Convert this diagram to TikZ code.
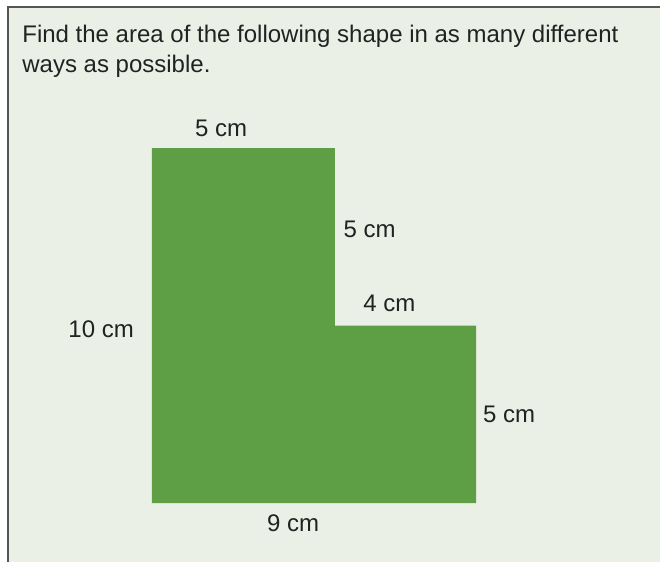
\documentclass[tikz,border=0pt]{standalone}
\usepackage{fontspec}
\setmainfont{Liberation Sans}
\usepackage{xcolor}
\usetikzlibrary{positioning,calc}
\definecolor{paneback}{HTML}{EBF0E6}
\definecolor{shapegreen}{HTML}{5E9E45}
\definecolor{panerule}{HTML}{555555}
\definecolor{labeltext}{HTML}{222222}
\newcommand{\wid}{9}
\newcommand{\hig}{10}
\newcommand{\topwid}{5.08}
\newcommand{\stephig}{5}

\begin{document}
\begin{tikzpicture}[x=18pt, y=17.75pt, font=\fontsize{12}{14.5}\selectfont]
        \tikzset{lengthlabel/.style={text=labeltext, inner sep=0pt, anchor=west}}
        % page and frame
        \useasboundingbox (-4.22,-1.662) rectangle (14.11,14.17);
        \fill[paneback] (-4,-1.662) rectangle (14.11,13.97);
        \draw[panerule, line width=1pt] (-4,-1.662) -- (-4,13.97) -- (14.11,13.97);

        % question
        \node[lengthlabel, anchor=base west] (question) at (-3.61,12.96)
            {Find the area of the following shape in as many different};
        \node[lengthlabel, anchor=base west] (questiontwo) at (-3.61,12.14)
            {ways as possible.};

        % corners of the shape
        \coordinate (O) at (0, 0);
        \coordinate (A) at (\wid, 0);
        \coordinate (B) at (\wid, \stephig);
        \coordinate (C) at (\topwid, \stephig);
        \coordinate (D) at (\topwid, \hig);
        \coordinate (E) at (0, \hig);

        % color
        \fill[shapegreen] (O) -- (A) -- (B) -- (C) -- (D) -- (E) -- cycle;

        % side lengths
        \node[lengthlabel] (topside) at ($(E)+(1.19,0.56)$) {5 cm};
        \node[lengthlabel] (upperside) at ($(D)+(0.23,-2.28)$) {5 cm};
        \node[lengthlabel] (stepside) at ($(C)+(0.78,0.62)$) {4 cm};
        \node[lengthlabel] (leftside) at ($(O)+(-2.33,4.90)$) {10 cm};
        \node[lengthlabel] (lowerside) at ($(A)+(0.19,2.51)$) {5 cm};
        \node[lengthlabel] (bottomside) at ($(O)+(3.19,-0.56)$) {9 cm};
    \end{tikzpicture}
\end{document}
